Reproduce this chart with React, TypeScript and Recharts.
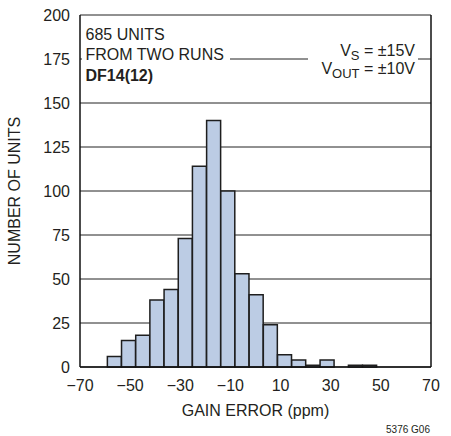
import React from 'react';
import { BarChart, Bar, XAxis, YAxis, CartesianGrid, ReferenceLine } from 'recharts';

// Histogram bin centers (ppm) and counts
const binCenters = [
  -56.26, -50.61, -44.95, -39.3, -33.64, -27.98, -22.33, -16.67, -11.02, -5.36,
  0.3, 5.95, 11.61, 17.26, 22.92, 28.58, 34.23, 39.89, 45.54,
];
const unitCounts = [6, 15, 18, 38, 44, 73, 114, 140, 100, 53, 41, 24, 7, 4, 1, 4, 0, 1, 1];
const xTicks = [-70, -50, -30, -10, 10, 30, 50, 70];
const yTicks = [0, 25, 50, 75, 100, 125, 150, 175, 200];

const data = binCenters.map((c, i) => ({ center: c, units: unitCounts[i] }));

const FONT = "'Liberation Sans', Arial, sans-serif";
const TXT = '#231f20';

const fmtX = (v: number) => (v < 0 ? '\u2212' + Math.abs(v) : String(v));

export default function App() {
  return (
    <div style={{ position: 'absolute', left: 0, top: 0, width: 451, height: 436, background: '#fff' }}>
      <BarChart
        width={451}
        height={436}
        data={data}
        margin={{ top: 15, right: 20, bottom: 19, left: 30 }}
        barCategoryGap={0}
        barGap={0}
      >
        <CartesianGrid vertical={false} stroke="#222" strokeWidth={1} />
        <XAxis
          type="number"
          dataKey="center"
          domain={[-70, 70]}
          ticks={xTicks}
          tickFormatter={fmtX}
          allowDataOverflow
          height={50}
          tickSize={0}
          tickMargin={13}
          axisLine={{ stroke: '#111', strokeWidth: 1.5 }}
          tickLine={false}
          tick={{ fill: TXT, fontSize: 16, fontFamily: FONT }}
          interval={0}
        />
        <YAxis
          type="number"
          domain={[0, 200]}
          ticks={yTicks}
          width={50}
          tickSize={0}
          tickMargin={10}
          axisLine={{ stroke: '#111', strokeWidth: 1.5 }}
          tickLine={false}
          tick={{ fill: TXT, fontSize: 16, fontFamily: FONT }}
          interval={0}
        />
        <ReferenceLine x={70} stroke="#111" strokeWidth={1.5} ifOverflow="extendDomain" />
        <Bar
          dataKey="units"
          fill="#bccce4"
          stroke="#1e1e1e"
          strokeWidth={1.5}
          isAnimationActive={false}
        />
      </BarChart>
      <svg
        width={451}
        height={436}
        style={{ position: 'absolute', left: 0, top: 0, pointerEvents: 'none' }}
        fontFamily={FONT}
        fill={TXT}
      >
        <rect x={82} y={17} width={148} height={70} fill="#fff" />
        <text x={85.5} y={39.5} fontSize={16}>685 UNITS</text>
        <text x={85.5} y={60} fontSize={16}>FROM TWO RUNS</text>
        <text x={85.5} y={81} fontSize={16} fontWeight="bold">DF14(12)</text>

        <rect x={308} y={40} width={110} height={40} fill="#fff" />
        <text x={415} y={56} fontSize={16} textAnchor="end">
          V<tspan fontSize={13} dy={4}>S</tspan>
          <tspan dy={-4}> = ±15V</tspan>
        </text>
        <text x={415} y={74} fontSize={16} textAnchor="end">
          V<tspan fontSize={13} dy={4}>OUT</tspan>
          <tspan dy={-4}> = ±10V</tspan>
        </text>

        <text x={255.5} y={416} fontSize={16} textAnchor="middle">GAIN ERROR (ppm)</text>
        <text x={20} y={191} fontSize={16} textAnchor="middle" transform="rotate(-90 20 191)">
          NUMBER OF UNITS
        </text>
        <text x={430} y={433} fontSize={10} textAnchor="end">5376 G06</text>
      </svg>
    </div>
  );
}
